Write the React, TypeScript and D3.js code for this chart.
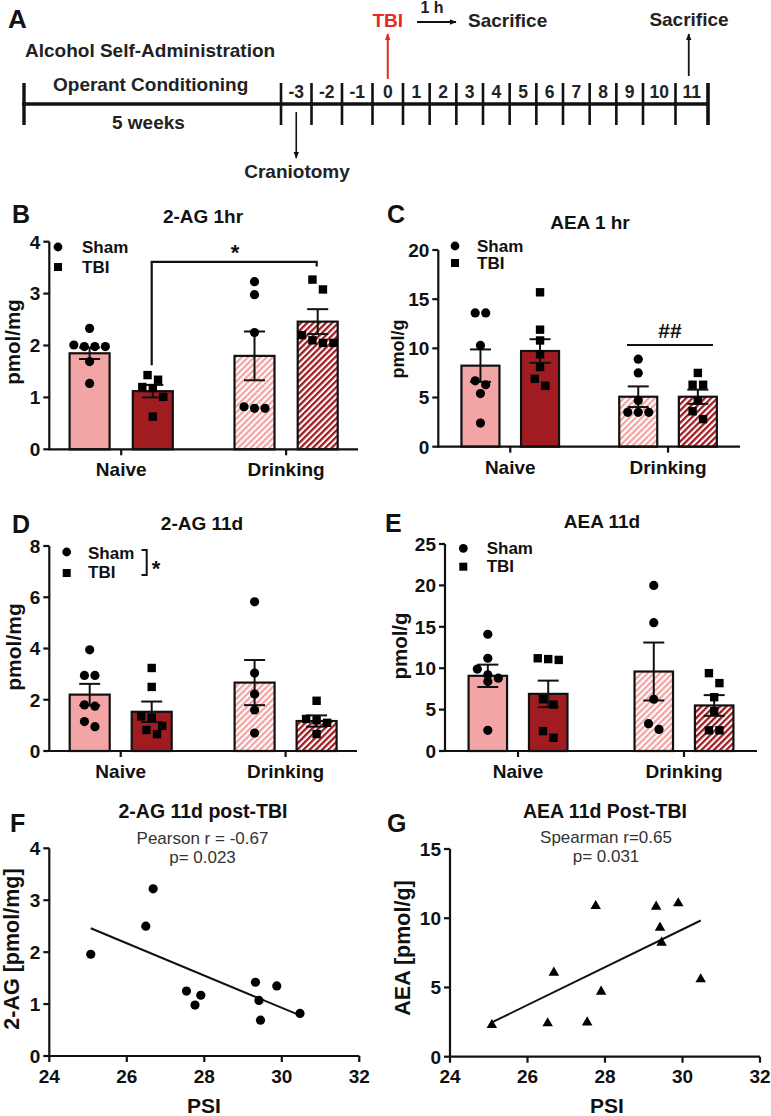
import React from 'react';
import * as d3 from 'd3';

// ---------------- Data ----------------
const GROUPS = ['Naive', 'Drinking'];
const SERIES = ['Sham', 'TBI'];
const DAYS = ['-3', '-2', '-1', '0', '1', '2', '3', '4', '5', '6', '7', '8', '9', '10', '11'];

// B: 2-AG 1hr (pmol/mg) — order: Naive Sham, Naive TBI, Drinking Sham, Drinking TBI
const B_TICKS = [0, 1, 2, 3, 4];
const B_MEAN = [1.85, 1.12, 1.8, 2.46];
const B_SEM = [0.11, 0.12, 0.47, 0.24];
const B_NAIVE_SHAM = [2.33, 2.01, 1.98, 1.98, 1.98, 1.69, 1.27];
const B_NAIVE_TBI = [1.43, 1.34, 1.2, 1.18, 1.01, 0.63];
const B_DRINK_SHAM = [3.23, 2.98, 2.25, 0.82, 0.79, 0.79];
const B_DRINK_TBI = [3.27, 3.08, 2.2, 2.1, 2.05, 2.05];

// C: AEA 1 hr (pmol/g)
const C_TICKS = [0, 5, 10, 15, 20];
const C_MEAN = [8.24, 9.73, 5.08, 5.08];
const C_SEM = [1.65, 1.2, 1.05, 0.72];
const C_NAIVE_SHAM = [13.6, 13.6, 10.3, 6.7, 6.3, 5.4, 2.4];
const C_NAIVE_TBI = [15.7, 11.9, 10.8, 9.4, 8.1, 6.9, 6.2];
const C_DRINK_SHAM = [8.9, 7.5, 4.7, 3.5, 3.5, 3.5];
const C_DRINK_TBI = [7.5, 6.3, 6.3, 4.7, 3.6, 2.8];

// D: 2-AG 11d (pmol/mg)
const D_TICKS = [0, 2, 4, 6, 8];
const D_MEAN = [2.2, 1.53, 2.67, 1.17];
const D_SEM = [0.42, 0.4, 0.88, 0.22];
const D_NAIVE_SHAM = [3.95, 2.95, 2.95, 1.8, 1.75, 1.15, 0.95];
const D_NAIVE_TBI = [3.24, 2.5, 1.35, 1.3, 0.98, 0.82, 0.66];
const D_DRINK_SHAM = [5.82, 3.04, 2.22, 1.6, 0.7];
const D_DRINK_TBI = [1.96, 1.25, 1.2, 1.1, 0.66];

// E: AEA 11d (pmol/g)
const E_TICKS = [0, 5, 10, 15, 20, 25];
const E_MEAN = [9.08, 6.9, 9.6, 5.5];
const E_SEM = [1.35, 1.6, 3.5, 1.25];
const E_NAIVE_SHAM = [14.1, 11.2, 9.9, 9.2, 8.8, 8.4, 2.5];
const E_NAIVE_TBI = [11.2, 11.1, 11.0, 6.25, 5.6, 2.4, 1.6];
const E_DRINK_SHAM = [20.0, 15.5, 6.25, 3.3, 2.6];
const E_DRINK_TBI = [9.4, 8.2, 6.5, 4.8, 2.5, 2.5];

// F: 2-AG 11d post-TBI vs PSI
const PSI_TICKS = [24, 26, 28, 30, 32];
const F_YTICKS = [0, 1, 2, 3, 4];
const F_PSI = [25.07, 26.49, 26.68, 27.54, 27.76, 27.91, 29.32, 29.41, 29.45, 29.87, 30.47];
const F_2AG = [1.96, 2.5, 3.22, 1.25, 0.98, 1.17, 1.42, 1.07, 0.69, 1.35, 0.82];

// G: AEA 11d Post-TBI vs PSI
const G_YTICKS = [0, 5, 10, 15];
const G_PSI = [25.08, 26.52, 26.68, 27.54, 27.76, 27.9, 29.32, 29.42, 29.46, 29.89, 30.47];
const G_AEA = [2.29, 2.41, 6.07, 2.48, 10.88, 4.7, 10.84, 9.32, 8.24, 11.08, 5.59];

// ---------------- Styles ----------------
const FONT = '"Liberation Sans", Arial, Helvetica, sans-serif';
const SHAM_FILL = '#f3a5a5';
const TBI_FILL = '#a11c21';
const RED = '#e42a24';
const INK = '#111';

type BarLayout = {
  left: number; right: number; y0: number; yTop: number;
  pad: number; inner: number; barW: number; catY: number;
};

const LB: BarLayout = { left: 49.3, right: 358, y0: 449.3, yTop: 241.7, pad: 0.436, inner: 31.6, barW: 40, catY: 476 };
const LC: BarLayout = { left: 438.3, right: 740, y0: 446.7, yTop: 250, pad: 0.456, inner: 29.8, barW: 38, catY: 474 };
const LD: BarLayout = { left: 49.3, right: 357, y0: 751, yTop: 546, pad: 0.433, inner: 31, barW: 40, catY: 778 };
const LE: BarLayout = { left: 445, right: 757, y0: 751, yTop: 544, pad: 0.44, inner: 30.2, barW: 38.5, catY: 778 };

const LF = { left: 49.3, right: 359.3, y0: 1056, yTop: 848.3 };
const LG = { left: 450, right: 760, y0: 1056.7, yTop: 849 };

function swarm(vals: number[], y: (v: number) => number, d: number, thr: number) {
  const sorted = vals.map((v) => ({ v, py: y(v) })).sort((a, b) => a.py - b.py);
  const rows: { v: number; py: number }[][] = [];
  for (const p of sorted) {
    const last = rows[rows.length - 1];
    if (last && p.py - last[0].py < thr) last.push(p);
    else rows.push([p]);
  }
  const out: { py: number; dx: number }[] = [];
  rows.forEach((r) => r.forEach((p, k) => out.push({ py: p.py, dx: (k - (r.length - 1) / 2) * d })));
  return out;
}

function BarChart({ L, ticks, means, sems, pts, children }: any) {
  const y = d3.scaleLinear().domain([0, ticks[ticks.length - 1]]).range([L.y0, L.yTop]);
  const xg = d3.scalePoint<string>().domain(GROUPS).range([L.left, L.right]).padding(L.pad);
  const xs = d3.scalePoint<string>().domain(SERIES).range([-L.inner, L.inner]);
  const items = GROUPS.flatMap((g, gi) =>
    SERIES.map((s, si) => {
      const i = gi * 2 + si;
      return { key: g + s, gi, si, cx: (xg(g) as number) + (xs(s) as number), mean: means[i], sem: sems[i], pts: pts[i] };
    })
  );
  const fillFor = (gi: number, si: number) =>
    gi === 0 ? (si === 0 ? SHAM_FILL : TBI_FILL) : si === 0 ? 'url(#hatchSham)' : 'url(#hatchTBI)';
  const cap = 10.5;
  return (
    <g>
      {items.map((it) => (
        <rect key={'b' + it.key} x={it.cx - L.barW / 2} y={y(it.mean)} width={L.barW}
          height={L.y0 - y(it.mean)} fill={fillFor(it.gi, it.si)} stroke={INK} strokeWidth={2.2} />
      ))}
      {items.map((it) => {
        const yt = y(it.mean + it.sem);
        const yb = y(it.mean - it.sem);
        return (
          <g key={'e' + it.key} stroke={INK} strokeWidth={2}>
            <line x1={it.cx} x2={it.cx} y1={yt} y2={yb} />
            <line x1={it.cx - cap} x2={it.cx + cap} y1={yt} y2={yt} />
            <line x1={it.cx - cap} x2={it.cx + cap} y1={yb} y2={yb} />
          </g>
        );
      })}
      {items.map((it) =>
        swarm(it.pts, y, 10.5, 10).map((p, k) =>
          it.si === 0 ? (
            <circle key={'p' + it.key + k} cx={it.cx + p.dx} cy={p.py} r={4.6} fill="#000" />
          ) : (
            <rect key={'p' + it.key + k} x={it.cx + p.dx - 4.2} y={p.py - 4.2} width={8.4} height={8.4} fill="#000" />
          )
        )
      )}
      {/* axes */}
      <g stroke={INK} strokeWidth={2.2}>
        <line x1={L.left} x2={L.left} y1={L.y0 + 1} y2={L.yTop} />
        <line x1={L.left} x2={L.right} y1={L.y0} y2={L.y0} />
        {ticks.map((t: number) => (
          <line key={'yt' + t} x1={L.left - 6} x2={L.left} y1={y(t)} y2={y(t)} />
        ))}
        {GROUPS.map((g) => (
          <line key={'xt' + g} x1={xg(g)} x2={xg(g)} y1={L.y0} y2={L.y0 + 6} />
        ))}
      </g>
      {ticks.map((t: number) => (
        <text key={'yl' + t} x={L.left - 9} y={y(t)} dy="0.36em" textAnchor="end" fontSize={19} fontWeight="bold">
          {t}
        </text>
      ))}
      {GROUPS.map((g) => (
        <text key={'xl' + g} x={xg(g)} y={L.catY} textAnchor="middle" fontSize={19} fontWeight="bold">
          {g}
        </text>
      ))}
      {children ? children(y, xg) : null}
    </g>
  );
}

function Scatter({ L, xs, ys, yTicks, tri }: any) {
  const x = d3.scaleLinear().domain([PSI_TICKS[0], PSI_TICKS[PSI_TICKS.length - 1]]).range([L.left, L.right]);
  const y = d3.scaleLinear().domain([0, yTicks[yTicks.length - 1]]).range([L.y0, L.yTop]);
  const mx = d3.mean(xs as number[]) as number;
  const my = d3.mean(ys as number[]) as number;
  const slope =
    (d3.sum(xs.map((v: number, i: number) => (v - mx) * (ys[i] - my))) as number) /
    (d3.sum(xs.map((v: number) => (v - mx) * (v - mx))) as number);
  const x1 = d3.min(xs as number[]) as number;
  const x2 = d3.max(xs as number[]) as number;
  const f = (v: number) => my + slope * (v - mx);
  const triPath = d3.symbol().type(d3.symbolTriangle).size(48)() as string;
  return (
    <g>
      <line x1={x(x1)} y1={y(f(x1))} x2={x(x2)} y2={y(f(x2))} stroke={INK} strokeWidth={2} />
      {xs.map((v: number, i: number) =>
        tri ? (
          <path key={i} d={triPath} transform={`translate(${x(v)},${y(ys[i])})`} fill="#000" />
        ) : (
          <circle key={i} cx={x(v)} cy={y(ys[i])} r={4.6} fill="#000" />
        )
      )}
      <g stroke={INK} strokeWidth={2.2}>
        <line x1={L.left} x2={L.left} y1={L.y0 + 1} y2={L.yTop} />
        <line x1={L.left} x2={L.right} y1={L.y0} y2={L.y0} />
        {yTicks.map((t: number) => (
          <line key={'yt' + t} x1={L.left - 6} x2={L.left} y1={y(t)} y2={y(t)} />
        ))}
        {PSI_TICKS.map((t) => (
          <line key={'xt' + t} x1={x(t)} x2={x(t)} y1={L.y0} y2={L.y0 + 6} />
        ))}
      </g>
      {yTicks.map((t: number) => (
        <text key={'yl' + t} x={L.left - 9} y={y(t)} dy="0.36em" textAnchor="end" fontSize={19} fontWeight="bold">
          {t}
        </text>
      ))}
      {PSI_TICKS.map((t) => (
        <text key={'xl' + t} x={x(t)} y={1083} textAnchor="middle" fontSize={19} fontWeight="bold">
          {t}
        </text>
      ))}
    </g>
  );
}

function Legend({ cx, cy1, cy2, tx, b1, b2 }: any) {
  return (
    <g>
      <circle cx={cx} cy={cy1} r={4.4} fill="#000" />
      <rect x={cx - 4} y={cy2 - 4} width={8} height={8} fill="#000" />
      <text x={tx} y={b1} fontSize={17} fontWeight="bold">Sham</text>
      <text x={tx} y={b2} fontSize={17} fontWeight="bold">TBI</text>
    </g>
  );
}

function YLabel({ x, y, size, text }: any) {
  return (
    <text transform={`translate(${x},${y}) rotate(-90)`} textAnchor="middle" fontSize={size} fontWeight="bold">
      {text}
    </text>
  );
}

function Timeline() {
  const dayX = d3.scaleLinear().domain([-3.5, 0.5, 9.5, 11.5]).range([281, 403, 643, 708]);
  const bounds = d3.range(-3.5, 12, 1);
  const lineY = 104;
  const c = (d: string) => dayX(+d);
  return (
    <g>
      <defs>
        <marker id="arrowK" viewBox="0 0 10 10" refX="9" refY="5" markerWidth="7" markerHeight="7" orient="auto-start-reverse" markerUnits="userSpaceOnUse">
          <path d="M0,1 L10,5 L0,9 Z" fill={INK} />
        </marker>
        <marker id="arrowR" viewBox="0 0 10 10" refX="9" refY="5" markerWidth="7" markerHeight="7" orient="auto-start-reverse" markerUnits="userSpaceOnUse">
          <path d="M0,1 L10,5 L0,9 Z" fill={RED} />
        </marker>
      </defs>
      <text x={8} y={28} fontSize={26} fontWeight="bold">A</text>
      <text x={25} y={57} fontSize={19} fontWeight="bold" fill="#222">Alcohol Self-Administration</text>
      <text x={53} y={91} fontSize={19} fontWeight="bold" fill="#222">Operant Conditioning</text>
      <text x={112} y={129} fontSize={19} fontWeight="bold" fill="#222">5 weeks</text>
      <line x1={22} x2={709} y1={lineY} y2={lineY} stroke={INK} strokeWidth={3.6} />
      <line x1={24} x2={24} y1={83} y2={125} stroke={INK} strokeWidth={3.4} />
      {bounds.map((b, i) => (
        <line key={'tb' + i} x1={dayX(b)} x2={dayX(b)} y1={83} y2={125} stroke={INK}
          strokeWidth={i === bounds.length - 1 ? 3.6 : 2.6} />
      ))}
      {DAYS.map((d) => (
        <text key={'d' + d} x={c(d)} y={98} textAnchor="middle" fontSize={17.5} fontWeight="bold" fill="#222">
          {d}
        </text>
      ))}
      {/* craniotomy */}
      <line x1={c('-3')} x2={c('-3')} y1={112} y2={158} stroke={INK} strokeWidth={1.6} markerEnd="url(#arrowK)" />
      <text x={297} y={178} textAnchor="middle" fontSize={19} fontWeight="bold" fill="#222">Craniotomy</text>
      {/* TBI */}
      <line x1={c('0')} x2={c('0')} y1={79} y2={34} stroke={RED} strokeWidth={2} markerEnd="url(#arrowR)" />
      <text x={c('0')} y={27} textAnchor="middle" fontSize={19} fontWeight="bold" fill={RED}>TBI</text>
      <text x={432} y={13} textAnchor="middle" fontSize={16} fontWeight="bold" fill="#222">1 h</text>
      <line x1={417} x2={456} y1={22} y2={22} stroke={INK} strokeWidth={2} markerEnd="url(#arrowK)" />
      <text x={468} y={27} fontSize={19} fontWeight="bold" fill="#222">Sacrifice</text>
      {/* sacrifice 11 */}
      <line x1={c('11') - 3} x2={c('11') - 3} y1={76} y2={34} stroke={INK} strokeWidth={1.8} markerEnd="url(#arrowK)" />
      <text x={689} y={25.5} textAnchor="middle" fontSize={19} fontWeight="bold" fill="#222">Sacrifice</text>
    </g>
  );
}

export default function App() {
  React.useEffect(() => {
    document.body.style.margin = '0';
  }, []);
  return (
    <svg width={771} height={1116} viewBox="0 0 771 1116" style={{ position: 'absolute', left: 0, top: 0, display: 'block' }}
      fontFamily={FONT} fill="#111">
      <defs>
        <pattern id="hatchSham" patternUnits="userSpaceOnUse" width={4.4} height={8} patternTransform="rotate(45)">
          <rect x={0} y={0} width={4.4} height={8} fill="#fff" />
          <rect x={0} y={0} width={2.3} height={8} fill={SHAM_FILL} />
        </pattern>
        <pattern id="hatchTBI" patternUnits="userSpaceOnUse" width={4.4} height={8} patternTransform="rotate(45)">
          <rect x={0} y={0} width={4.4} height={8} fill="#fff" />
          <rect x={0} y={0} width={2.3} height={8} fill={TBI_FILL} />
        </pattern>
      </defs>
      <rect x={0} y={0} width={771} height={1116} fill="#fff" />

      <Timeline />

      {/* ---------- B ---------- */}
      <text x={12} y={223} fontSize={25} fontWeight="bold">B</text>
      <text x={203} y={223} textAnchor="middle" fontSize={19} fontWeight="bold">2-AG 1hr</text>
      <YLabel x={20} y={342} size={20.5} text="pmol/mg" />
      <BarChart L={LB} ticks={B_TICKS} means={B_MEAN} sems={B_SEM}
        pts={[B_NAIVE_SHAM, B_NAIVE_TBI, B_DRINK_SHAM, B_DRINK_TBI]}>
        {(y: any) => (
          <g>
            <path d={`M151.7,${y(1.62)} V${y(3.61)} H316.7 V${y(3.52)}`} fill="none" stroke={INK} strokeWidth={2.2} />
            <text x={235} y={260} textAnchor="middle" fontSize={22} fontWeight="bold">*</text>
          </g>
        )}
      </BarChart>
      <Legend cx={58} cy1={247} cy2={267} tx={82} b1={253} b2={273} />

      {/* ---------- C ---------- */}
      <text x={387} y={223} fontSize={25} fontWeight="bold">C</text>
      <text x={590} y={229} textAnchor="middle" fontSize={19} fontWeight="bold">AEA 1 hr</text>
      <YLabel x={404} y={349} size={18} text="pmol/g" />
      <BarChart L={LC} ticks={C_TICKS} means={C_MEAN} sems={C_SEM}
        pts={[C_NAIVE_SHAM, C_NAIVE_TBI, C_DRINK_SHAM, C_DRINK_TBI]}>
        {(y: any) => (
          <g>
            <line x1={627} x2={713} y1={y(10.34)} y2={y(10.34)} stroke={INK} strokeWidth={2.2} />
            <text x={670} y={338} textAnchor="middle" fontSize={21} fontWeight="bold">##</text>
          </g>
        )}
      </BarChart>
      <Legend cx={455} cy1={246} cy2={263} tx={477} b1={252} b2={269} />

      {/* ---------- D ---------- */}
      <text x={12} y={533} fontSize={25} fontWeight="bold">D</text>
      <text x={202} y={530} textAnchor="middle" fontSize={19} fontWeight="bold">2-AG 11d</text>
      <YLabel x={20.5} y={647} size={21} text="pmol/mg" />
      <BarChart L={LD} ticks={D_TICKS} means={D_MEAN} sems={D_SEM}
        pts={[D_NAIVE_SHAM, D_NAIVE_TBI, D_DRINK_SHAM, D_DRINK_TBI]} />
      <Legend cx={66.7} cy1={552} cy2={573} tx={88} b1={559} b2={578} />
      <path d="M141.5,550 H146.7 V575 H141.5" fill="none" stroke={INK} strokeWidth={2} />
      <text x={156} y={576} textAnchor="middle" fontSize={22} fontWeight="bold">*</text>

      {/* ---------- E ---------- */}
      <text x={385} y={532} fontSize={25} fontWeight="bold">E</text>
      <text x={602} y={528} textAnchor="middle" fontSize={19} fontWeight="bold">AEA 11d</text>
      <YLabel x={407} y={646} size={20.5} text="pmol/g" />
      <BarChart L={LE} ticks={E_TICKS} means={E_MEAN} sems={E_SEM}
        pts={[E_NAIVE_SHAM, E_NAIVE_TBI, E_DRINK_SHAM, E_DRINK_TBI]} />
      <Legend cx={463.3} cy1={548.3} cy2={566.7} tx={486.7} b1={554} b2={572} />

      {/* ---------- F ---------- */}
      <text x={10} y={832} fontSize={25} fontWeight="bold">F</text>
      <text x={203} y={818} textAnchor="middle" fontSize={19.5} fontWeight="bold">2-AG 11d post-TBI</text>
      <text x={202.5} y={844} textAnchor="middle" fontSize={17} fill="#333">Pearson r = -0.67</text>
      <text x={202.5} y={863} textAnchor="middle" fontSize={17} fill="#333">p= 0.023</text>
      <YLabel x={19} y={949} size={21.5} text="2-AG [pmol/mg]" />
      <Scatter L={LF} xs={F_PSI} ys={F_2AG} yTicks={F_YTICKS} tri={false} />
      <text x={204} y={1113} textAnchor="middle" fontSize={21} fontWeight="bold">PSI</text>

      {/* ---------- G ---------- */}
      <text x={387} y={832} fontSize={25} fontWeight="bold">G</text>
      <text x={605} y={818} textAnchor="middle" fontSize={19.5} fontWeight="bold">AEA 11d Post-TBI</text>
      <text x={606} y={843} textAnchor="middle" fontSize={17} fill="#333">Spearman r=0.65</text>
      <text x={606} y={862} textAnchor="middle" fontSize={17} fill="#333">p= 0.031</text>
      <YLabel x={409.5} y={948} size={21.5} text="AEA [pmol/g]" />
      <Scatter L={LG} xs={G_PSI} ys={G_AEA} yTicks={G_YTICKS} tri={true} />
      <text x={607} y={1113} textAnchor="middle" fontSize={21} fontWeight="bold">PSI</text>
    </svg>
  );
}
